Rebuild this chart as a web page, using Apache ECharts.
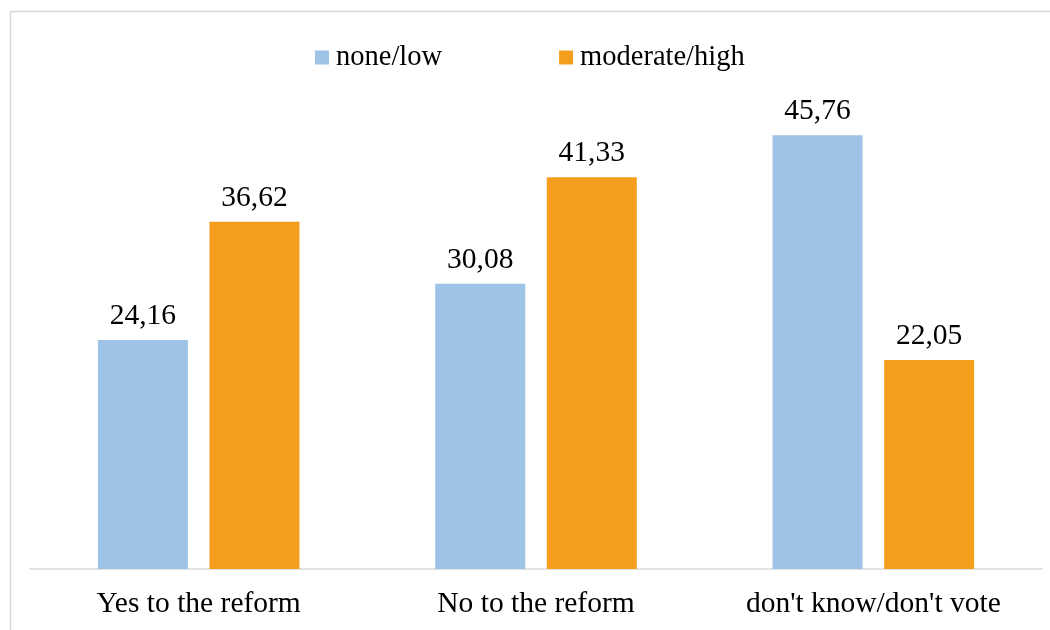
<!DOCTYPE html>
<html>
<head>
<meta charset="utf-8">
<script src="https://cdn.jsdelivr.net/npm/echarts@6/dist/echarts.min.js"></script>
<style>
  html, body { margin: 0; padding: 0; background: #fff; }
  #chart { width: 1050px; height: 630px; }
</style>
</head>
<body>
<div id="chart"></div>
<script>
// Response groups on the x axis
const categories = ['Yes to the reform', 'No to the reform', "don't know/don't vote"];
// Share (%) by level, one array per series
const seriesNames = ['none/low', 'moderate/high'];
const noneLow = [24.16, 30.08, 45.76];
const moderateHigh = [36.62, 41.33, 22.05];

const FONT = '"Liberation Serif", "Times New Roman", serif';
const fmt = v => v.toFixed(2).replace('.', ',');

const chart = echarts.init(document.getElementById('chart'), null, { renderer: 'canvas' });

const labelStyle = {
  show: true,
  position: 'top',
  distance: 9,
  fontFamily: FONT,
  fontSize: 29.5,
  color: '#000',
  formatter: p => fmt(p.value)
};

chart.setOption({
  animation: false,
  backgroundColor: '#fff',
  graphic: [{
    type: 'rect',
    left: 8, top: 9,
    shape: { width: 1100, height: 700 },
    style: { fill: 'none', stroke: '#D9D9D9', lineWidth: 1.5 },
    silent: true
  }],
  legend: {
    left: 310,
    top: 38,
    itemWidth: 14,
    itemHeight: 14,
    itemGap: 117,
    icon: 'rect',
    textStyle: { fontFamily: FONT, fontSize: 28.5, color: '#000', padding: [0, 0, 0, 2] },
    data: seriesNames
  },
  grid: { left: 30, right: 8, top: 95, bottom: 61, containLabel: false },
  xAxis: {
    type: 'category',
    data: categories,
    axisLine: { lineStyle: { color: '#D9D9D9', width: 1.5 } },
    axisTick: { show: false },
    axisLabel: { fontFamily: FONT, fontSize: 29.5, color: '#000', margin: 20 }
  },
  yAxis: {
    type: 'value',
    min: 0, max: 50,
    show: false,
    splitLine: { show: false }
  },
  series: [
    {
      name: seriesNames[0], type: 'bar', data: noneLow,
      barWidth: 90, barGap: '24%',
      itemStyle: { color: '#9DC3E6' },
      label: labelStyle
    },
    {
      name: seriesNames[1], type: 'bar', data: moderateHigh,
      barWidth: 90,
      itemStyle: { color: '#F59E1E' },
      label: labelStyle
    }
  ]
});
</script>
</body>
</html>
